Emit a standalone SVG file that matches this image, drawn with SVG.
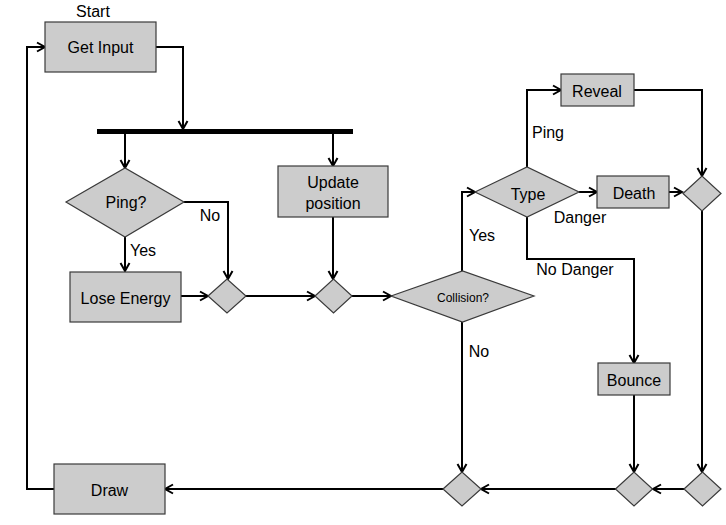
<svg xmlns="http://www.w3.org/2000/svg" width="726" height="525" viewBox="0 0 726 525">
<defs>
<marker id="arr" markerUnits="userSpaceOnUse" markerWidth="12" markerHeight="12" refX="9" refY="5" orient="auto" overflow="visible">
<path d="M1,0.5 L9,5 L1,9.5" fill="none" stroke="#000" stroke-width="2"/>
</marker>
<style>
.n{fill:#cccccc;stroke:#3a3a3a;stroke-width:1.2}
.c{fill:none;stroke:#000;stroke-width:2;marker-end:url(#arr)}
.p{fill:none;stroke:#000;stroke-width:2}
text{font-family:"Liberation Sans",Arial,sans-serif;font-size:16px;fill:#000;text-anchor:middle}
.s{font-size:12px}
.l{text-anchor:start}
</style>
</defs>
<rect width="726" height="525" fill="#fff"/>
<g id="connectors">
<polyline class="c" points="54,489 27,489 27,47 45,47"/>
<polyline class="c" points="156,47 183,47 183,129"/>
<polyline class="c" points="125,134 125,168"/>
<polyline class="c" points="333,134 333,166"/>
<polyline class="c" points="184,202 228,202 228,279"/>
<polyline class="c" points="125,237 125,271"/>
<polyline class="c" points="181,296 208,296"/>
<polyline class="c" points="245,296 315,296"/>
<polyline class="c" points="333,217 333,279"/>
<polyline class="c" points="352,296 391,296"/>
<polyline class="c" points="462,271 462,192 475,192"/>
<polyline class="c" points="527,167 527,90 561,90"/>
<polyline class="c" points="579,192 597,192"/>
<polyline class="c" points="669,192 682,192"/>
<polyline class="c" points="634,90 702,90 702,176"/>
<polyline class="c" points="527,217 527,259 634,259 634,363"/>
<polyline class="c" points="702,211 702,472"/>
<polyline class="c" points="634,395 634,472"/>
<polyline class="c" points="462,322 462,472"/>
<polyline class="c" points="684,489 653,489"/>
<polyline class="c" points="616,489 481,489"/>
<polyline class="c" points="443,489 165,489"/>
</g>
<g id="labels">
<text x="93" y="17">Start</text>
<text x="210" y="221">No</text>
<text x="143" y="256">Yes</text>
<text x="548" y="138">Ping</text>
<text x="580" y="223">Danger</text>
<text x="482" y="241">Yes</text>
<text x="575" y="275">No Danger</text>
<text x="479" y="357">No</text>
</g>
<g id="fork"><rect x="97" y="129" width="256" height="5" fill="#000"/></g>
<g id="get-input"><rect class="n" x="45" y="22" width="111" height="50"/><text x="100.5" y="53">Get Input</text></g>
<g id="ping"><polygon class="n" points="66,202 125,168 184,202 125,237"/><text x="126" y="208">Ping?</text></g>
<g id="update-position"><rect class="n" x="278" y="166" width="110" height="51"/><text x="333" y="188">Update</text><text x="333" y="209">position</text></g>
<g id="lose-energy"><rect class="n" x="70" y="272" width="111" height="50"/><text x="125.5" y="304">Lose Energy</text></g>
<g id="merge1"><polygon class="n" points="208,296 227,279 246,296 227,313"/></g>
<g id="merge2"><polygon class="n" points="315,296 333.5,279 352,296 333.5,313"/></g>
<g id="collision"><polygon class="n" points="391,296 462.5,271 534,296 462.5,322"/><text class="s" x="463" y="302">Collision?</text></g>
<g id="type"><polygon class="n" points="475,192 527,167 579,192 527,217"/><text x="528" y="200">Type</text></g>
<g id="reveal"><rect class="n" x="561" y="74" width="73" height="32"/><text x="597" y="97">Reveal</text></g>
<g id="death"><rect class="n" x="597" y="176" width="72" height="32"/><text x="634" y="199">Death</text></g>
<g id="merge3"><polygon class="n" points="683,193.5 702,176 721,193.5 702,211"/></g>
<g id="bounce"><rect class="n" x="598" y="363" width="72" height="32"/><text x="634" y="386">Bounce</text></g>
<g id="merge4"><polygon class="n" points="443,489 462,472 481,489 462,506"/></g>
<g id="merge5"><polygon class="n" points="615.5,489 634,472 652.5,489 634,506"/></g>
<g id="merge6"><polygon class="n" points="684,489 702.5,472 721,489 702.5,506"/></g>
<g id="draw"><rect class="n" x="54" y="464" width="111" height="50"/><text x="109.5" y="496">Draw</text></g>
</svg>
